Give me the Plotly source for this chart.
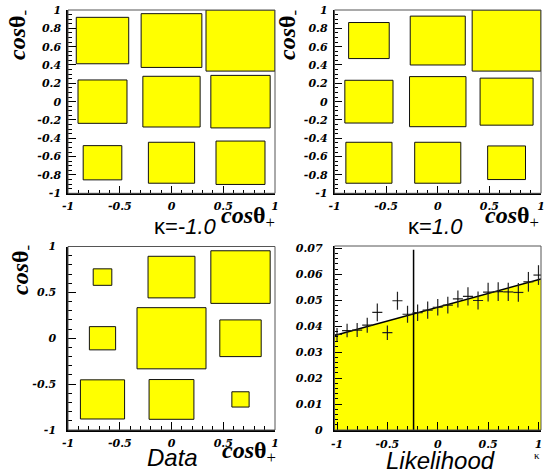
import plotly.graph_objects as go

# ---------------- data ----------------
bin_centers = [-2/3, 0.0, 2/3]          # cos(theta) bin centres (3x3 histograms)
bin_width = 2/3

# relative box sizes (side / bin width), rows from bottom (y=-2/3) to top (y=2/3)
kappa_m1_bottom = [0.56, 0.67, 0.71]
kappa_m1_middle = [0.71, 0.83, 0.86]
kappa_m1_top    = [0.76, 0.88, 1.00]

kappa_p1_bottom = [0.67, 0.67, 0.55]
kappa_p1_middle = [0.70, 0.82, 0.77]
kappa_p1_top    = [0.59, 0.80, 1.00]

data_bottom = [0.64, 0.65, 0.25]
data_middle = [0.38, 1.00, 0.60]
data_top    = [0.27, 0.68, 0.86]

# likelihood panel
kappa_points = [-1.0, -0.9, -0.8, -0.7, -0.6, -0.5, -0.4, -0.3, -0.2, -0.1, 0.0,
                0.1, 0.2, 0.3, 0.4, 0.5, 0.6, 0.7, 0.8, 0.9, 1.0]
likelihood = [0.0368, 0.0383, 0.0385, 0.0404, 0.0453, 0.0375, 0.0498, 0.0446, 0.0452,
              0.0462, 0.0473, 0.0481, 0.0505, 0.0515, 0.0499, 0.0531, 0.0533, 0.0532,
              0.0530, 0.0571, 0.0597]
likelihood_err = [0.0025, 0.0026, 0.0027, 0.0029, 0.0034, 0.0028, 0.0035, 0.0033, 0.0032,
                  0.0033, 0.0032, 0.0032, 0.0033, 0.0035, 0.0035, 0.0036, 0.0036, 0.0035,
                  0.0036, 0.0038, 0.0038]
kappa_bin_half = 0.05
fit_intercept = 0.0473
fit_slope = 0.0106
kappa_range = [-1.025, 1.025]
kappa_best = -0.24
kappa_best_top = 0.0695

# tick labels
cos_ticks_fine = [-1, -0.8, -0.6, -0.4, -0.2, 0, 0.2, 0.4, 0.6, 0.8, 1]
cos_ticks_fine_text = ["-1", "-0.8", "-0.6", "-0.4", "-0.2", "0", "0.2", "0.4", "0.6", "0.8", "1"]
cos_ticks = [-1, -0.5, 0, 0.5, 1]
cos_ticks_text = ["-1", "-0.5", "0", "0.5", "1"]
lik_ticks = [0, 0.01, 0.02, 0.03, 0.04, 0.05, 0.06, 0.07]
lik_ticks_text = ["0", "0.01", "0.02", "0.03", "0.04", "0.05", "0.06", "0.07"]

# ---------------- helpers ----------------
W, H = 545, 475
def px(x):
    return x / W
def py(y):
    return 1 - y / H

YELLOW = "#ffff00"

def box_trace(rows, xa, ya):
    xs, ys = [], []
    for yc, row in zip(bin_centers, rows):
        for xc, f in zip(bin_centers, row):
            h = f * bin_width / 2
            xs += [xc - h, xc + h, xc + h, xc - h, xc - h, None]
            ys += [yc - h, yc - h, yc + h, yc + h, yc - h, None]
    return go.Scatter(x=xs, y=ys, mode="lines", fill="toself", fillcolor=YELLOW,
                      line=dict(color="#111111", width=1), xaxis=xa, yaxis=ya,
                      hoverinfo="skip", showlegend=False)

fig = go.Figure()
fig.add_trace(box_trace([kappa_m1_bottom, kappa_m1_middle, kappa_m1_top], "x", "y"))
fig.add_trace(box_trace([kappa_p1_bottom, kappa_p1_middle, kappa_p1_top], "x2", "y2"))
fig.add_trace(box_trace([data_bottom, data_middle, data_top], "x3", "y3"))

# likelihood: fitted line with filled area
fit_x = list(kappa_range)
fit_y = [fit_intercept + fit_slope * k for k in fit_x]
fig.add_trace(go.Scatter(x=fit_x, y=fit_y, mode="lines", fill="tozeroy", fillcolor=YELLOW,
                         line=dict(color="black", width=1.5), xaxis="x4", yaxis="y4",
                         showlegend=False))
# best kappa vertical line
fig.add_trace(go.Scatter(x=[kappa_best, kappa_best], y=[0, kappa_best_top], mode="lines",
                         line=dict(color="black", width=1.5), xaxis="x4", yaxis="y4",
                         showlegend=False))
# data points
fig.add_trace(go.Scatter(x=kappa_points, y=likelihood, mode="markers",
                         marker=dict(size=1, color="black"),
                         error_x=dict(type="constant", value=kappa_bin_half, width=0,
                                      thickness=1.2, color="#222222"),
                         error_y=dict(type="data", array=likelihood_err, width=0,
                                      thickness=1.2, color="#222222"),
                         xaxis="x4", yaxis="y4", showlegend=False))

tickfont = dict(family="DejaVu Serif", size=11, color="black", weight="bold", style="italic")

def axis(domain, anchor, rng, tv, tt, minor_dtick, minor_tick0, standoff):
    return dict(domain=domain, anchor=anchor, range=rng, tickmode="array", tickvals=tv,
                ticktext=tt, ticks="inside", ticklen=8, tickwidth=1, tickcolor="black",
                minor=dict(ticks="inside", ticklen=4, tickmode="linear", tick0=minor_tick0,
                           dtick=minor_dtick, tickcolor="black", tickwidth=1),
                showgrid=False, zeroline=False, showline=True, linecolor="black",
                linewidth=1.5, tickfont=tickfont, ticklabelstandoff=standoff,
                ticklabeloverflow="allow", automargin=False, fixedrange=True)

xd1 = [px(68), px(275)]
xd2 = [px(334.5), px(541)]
yd_top = [py(193.3), py(10)]
yd_bot = [py(430), py(246.5)]

fig.update_layout(
    width=W, height=H, margin=dict(l=0, r=0, t=0, b=0, autoexpand=False),
    paper_bgcolor="white", plot_bgcolor="white", showlegend=False,
    xaxis=axis(xd1, "y", [-1, 1], cos_ticks, cos_ticks_text, 0.1, -1, 2),
    yaxis=axis(yd_top, "x", [-1, 1], cos_ticks_fine, cos_ticks_fine_text, 0.05, -1, 3),
    xaxis2=axis(xd2, "y2", [-1, 1], cos_ticks, cos_ticks_text, 0.1, -1, 2),
    yaxis2=axis(yd_top, "x2", [-1, 1], cos_ticks_fine, cos_ticks_fine_text, 0.05, -1, 3),
    xaxis3=axis(xd1, "y3", [-1, 1], cos_ticks, cos_ticks_text, 0.1, -1, 2),
    yaxis3=axis(yd_bot, "x3", [-1, 1], cos_ticks, cos_ticks_text, 0.1, -1, 8),
    xaxis4=axis(xd2, "y4", kappa_range, cos_ticks, cos_ticks_text, 0.1, -1, 3),
    yaxis4=axis([py(430), py(246)], "x4", [0, 0.0709], lik_ticks, lik_ticks_text, 0.002, 0, 8),
)

# thin frames
for xr, yr in [("x", "y"), ("x2", "y2"), ("x3", "y3"), ("x4", "y4")]:
    fig.add_shape(type="rect", xref=xr + " domain", yref=yr + " domain", x0=0, x1=1, y0=0, y1=1,
                  line=dict(color="#555555", width=1), layer="above")

title_font = dict(family="Liberation Serif", size=24, color="black")
label_font = dict(family="Liberation Sans", size=22, color="black")
label_font_big = dict(family="Liberation Sans", size=24, color="black")

def ann(text, x, y, font, xanchor="center", yanchor="middle", angle=0):
    fig.add_annotation(text=text, x=px(x), y=py(y), xref="paper", yref="paper",
                       showarrow=False, font=font, xanchor=xanchor, yanchor=yanchor,
                       textangle=angle)

ytitle = "<b><i>cos</i>θ</b><sub>-</sub>"
xtitle = "<b><i>cos</i>θ</b><sub>+</sub>"
ann(ytitle, 19, 35, title_font, angle=-90)
ann(ytitle, 289, 35, title_font, angle=-90)
ann(ytitle, 22, 270, title_font, angle=-90)
ann(xtitle, 277, 217, title_font, xanchor="right")
ann(xtitle, 541, 217, title_font, xanchor="right")
ann(xtitle, 278, 452, title_font, xanchor="right")

ann("κ=<i>-1.0</i>", 185, 226, label_font)
ann("κ=<i>1.0</i>", 435, 226, label_font)
ann("<i>Data</i>", 172, 457, label_font_big)
ann("<i>Likelihood</i>", 440, 460, label_font_big)
ann("κ", 537, 455, dict(family="Liberation Serif", size=11, color="black"))

# remove the browser's default 8px body margin so the 545x475 figure fills the window
fig.write_html("out.html", config={"displayModeBar": False},
               post_script="document.body.style.margin='0px';")
